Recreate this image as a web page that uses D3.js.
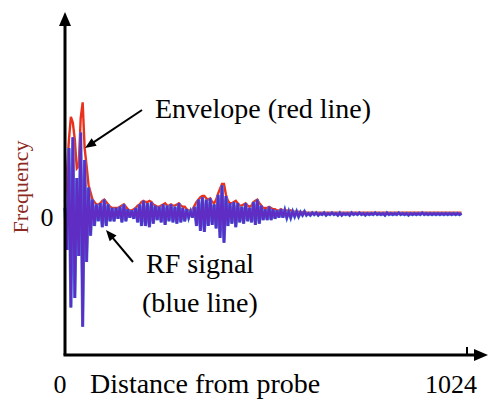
<!DOCTYPE html>
<html>
<head>
<meta charset="utf-8">
<script src="https://cdn.jsdelivr.net/npm/d3@7"></script>
<style>
  body { margin: 0; background: #fff; }
  text { font-family: "Liberation Serif", "Times New Roman", serif; }
</style>
</head>
<body>
<svg id="chart" width="488" height="403"></svg>
<script>
// sample step along the probe axis (index units)
var step = 5
var xMax = 1024
var xTicks = [0, 1024]

// RF signal samples, one every `step` index units
var rf = [
  0.05, -0.30, 0.55, -0.78, 0.64, -0.70, 0.30, -0.35, 0.68, -0.94,
  0.45, -0.40, 0.22, -0.18, 0.12, -0.10, 0.08, -0.06, 0.09, -0.11,
  0.12, -0.10, 0.08, -0.06, 0.05, -0.06, 0.05, -0.04, 0.06, -0.07,
  0.08, -0.06, 0.04, -0.03, 0.03, -0.04, 0.05, -0.07, 0.08, -0.10,
  0.11, -0.10, 0.09, -0.11, 0.10, -0.08, 0.07, -0.05, 0.06, -0.07,
  0.08, -0.09, 0.07, -0.06, 0.08, -0.07, 0.06, -0.08, 0.09, -0.07,
  0.05, -0.06, 0.04, -0.03, 0.02, -0.03, 0.06, -0.10, 0.12, -0.14,
  0.14, -0.15, 0.12, -0.10, 0.13, -0.09, 0.08, -0.12, 0.16, -0.20,
  0.24, -0.24, 0.15, -0.10, 0.09, -0.08, 0.10, -0.11, 0.09, -0.07,
  0.06, -0.08, 0.09, -0.06, 0.05, -0.07, 0.10, -0.09, 0.12, -0.08,
  0.07, -0.05, 0.04, -0.05, 0.06, -0.05, 0.04, -0.04, 0.03, -0.03,
  0.04, -0.03, 0.03, -0.03, 0.02, -0.03, 0.02, -0.02, 0.02, -0.02,
  0.015, -0.01, 0.02, -0.01, 0.005, -0.01, 0.01, -0.005, 0.01, -0.01,
  0.005, -0.005, 0.01, -0.01, 0.005, -0.005, 0.01, -0.005, 0.005, -0.01,
  0.01, -0.01, 0.005, -0.005, 0.005, -0.01, 0.01, -0.005, 0.005, -0.005,
  0.01, -0.005, 0.005, -0.01, 0.005, -0.005, 0.005, -0.005, 0.01, -0.005,
  0.005, -0.005, 0.005, -0.01, 0.01, -0.005, 0.005, -0.005, 0.005, -0.005,
  0.01, -0.005, 0.005, -0.005, 0.005, -0.01, 0.005, -0.005, 0.005, -0.005,
  0.005, -0.005, 0.01, -0.005, 0.005, -0.005, 0.005, -0.005, 0.005, -0.005,
  0.005, -0.005, 0.005, -0.005, 0.005, -0.005, 0.005, -0.005, 0.005, -0.005,
  0.005, -0.005, 0.005
]

// envelope of the RF signal, same sample grid
var envelope = [
  0.10, 0.35, 0.62, 0.81, 0.76, 0.62, 0.38, 0.40, 0.80, 0.93,
  0.55, 0.40, 0.24, 0.18, 0.12, 0.10, 0.08, 0.08, 0.09, 0.11,
  0.12, 0.10, 0.08, 0.06, 0.05, 0.05, 0.05, 0.05, 0.06, 0.07,
  0.08, 0.06, 0.04, 0.03, 0.03, 0.04, 0.05, 0.07, 0.08, 0.10,
  0.11, 0.10, 0.10, 0.11, 0.10, 0.08, 0.07, 0.06, 0.06, 0.07,
  0.08, 0.09, 0.07, 0.07, 0.08, 0.07, 0.07, 0.08, 0.09, 0.07,
  0.06, 0.06, 0.04, 0.03, 0.03, 0.04, 0.07, 0.10, 0.12, 0.14,
  0.15, 0.15, 0.13, 0.12, 0.13, 0.10, 0.09, 0.12, 0.17, 0.21,
  0.25, 0.25, 0.16, 0.11, 0.09, 0.09, 0.10, 0.11, 0.09, 0.07,
  0.07, 0.08, 0.09, 0.07, 0.06, 0.07, 0.10, 0.11, 0.12, 0.09,
  0.07, 0.05, 0.05, 0.05, 0.06, 0.05, 0.04, 0.04, 0.03, 0.03,
  0.04, 0.03, 0.03, 0.03, 0.02, 0.03, 0.02, 0.02, 0.02, 0.02,
  0.015, 0.015, 0.02, 0.01, 0.01, 0.01, 0.01, 0.01, 0.01, 0.01,
  0.01, 0.01, 0.01, 0.01, 0.01, 0.01, 0.01, 0.01, 0.01, 0.01,
  0.01, 0.01, 0.01, 0.01, 0.01, 0.01, 0.01, 0.01, 0.01, 0.01,
  0.01, 0.01, 0.01, 0.01, 0.01, 0.01, 0.01, 0.01, 0.01, 0.01,
  0.01, 0.01, 0.01, 0.01, 0.01, 0.01, 0.01, 0.01, 0.01, 0.01,
  0.01, 0.01, 0.01, 0.01, 0.01, 0.01, 0.01, 0.01, 0.01, 0.01,
  0.01, 0.01, 0.01, 0.01, 0.01, 0.01, 0.01, 0.01, 0.01, 0.01,
  0.01, 0.01, 0.01, 0.01, 0.01, 0.01, 0.01, 0.01, 0.01, 0.01,
  0.01, 0.01, 0.01
]

var svg = d3.select("#chart")
var x = d3.scaleLinear().domain([0, xMax]).range([65, 467])
var y = d3.scaleLinear().domain([-1, 1]).range([334, 94])
var axisY = 355
var line = d3.line().x(function (d, i) { return x(i * step) }).y(function (d) { return y(d) })

// envelope (red) underneath
svg.append("path")
  .datum(envelope)
  .attr("fill", "none")
  .attr("stroke", "#e8321e")
  .attr("stroke-width", 2.4)
  .attr("d", line)

// RF signal (blue) on top
svg.append("path")
  .datum(rf)
  .attr("fill", "none")
  .attr("stroke", "#3f86e2")
  .attr("stroke-width", 3.2)
  .attr("d", line)
svg.append("path")
  .datum(rf)
  .attr("fill", "none")
  .attr("stroke", "#5f2cc4")
  .attr("stroke-width", 2.4)
  .attr("d", line)

// axes with arrow heads
svg.append("line").attr("x1", x(0)).attr("y1", axisY).attr("x2", x(0)).attr("y2", 24)
  .attr("stroke", "#000").attr("stroke-width", 3)
svg.append("path").attr("d", "M" + x(0) + ",12 L" + (x(0) - 6) + ",26 L" + (x(0) + 6) + ",26 Z").attr("fill", "#000")
svg.append("line").attr("x1", x(0) - 1.5).attr("y1", axisY).attr("x2", 476).attr("y2", axisY)
  .attr("stroke", "#000").attr("stroke-width", 3)
svg.append("path").attr("d", "M488," + axisY + " L474," + (axisY - 6) + " L474," + (axisY + 6) + " Z").attr("fill", "#000")
svg.append("line").attr("x1", x(xMax)).attr("y1", axisY).attr("x2", x(xMax)).attr("y2", axisY - 8)
  .attr("stroke", "#000").attr("stroke-width", 2)

// tick labels
svg.append("text").attr("x", x(xTicks[0]) - 5).attr("y", 393).attr("text-anchor", "middle")
  .attr("font-size", 26).text(xTicks[0])
svg.append("text").attr("x", x(xTicks[1]) + 10).attr("y", 393).attr("text-anchor", "end")
  .attr("font-size", 26).text(xTicks[1])
svg.append("text").attr("x", 90).attr("y", 393).attr("font-size", 28).text("Distance from probe")
svg.append("text").attr("x", 47).attr("y", 226).attr("text-anchor", "middle")
  .attr("font-size", 26).text("0")
svg.append("text").attr("transform", "translate(28,187) rotate(-90)").attr("text-anchor", "middle")
  .attr("font-size", 22).attr("fill", "#8b2a22").text("Frequency")

// annotations
svg.append("text").attr("x", 155).attr("y", 118).attr("font-size", 28).text("Envelope (red line)")
svg.append("text").attr("x", 146).attr("y", 273).attr("font-size", 28).text("RF signal")
svg.append("text").attr("x", 142).attr("y", 312).attr("font-size", 28).text("(blue line)")

function arrow(x1, y1, x2, y2) {
  var a = Math.atan2(y2 - y1, x2 - x1), L = 11, W = 4.5
  svg.append("line").attr("x1", x1).attr("y1", y1)
    .attr("x2", x2 - Math.cos(a) * L * 0.8).attr("y2", y2 - Math.sin(a) * L * 0.8)
    .attr("stroke", "#000").attr("stroke-width", 2)
  var bx = x2 - Math.cos(a) * L, by = y2 - Math.sin(a) * L
  svg.append("path").attr("d", "M" + x2 + "," + y2 +
    " L" + (bx - Math.sin(a) * W) + "," + (by + Math.cos(a) * W) +
    " L" + (bx + Math.sin(a) * W) + "," + (by - Math.cos(a) * W) + " Z").attr("fill", "#000")
}
arrow(142, 110, 85, 148)
arrow(133, 262, 106, 230)
</script>
</body>
</html>
